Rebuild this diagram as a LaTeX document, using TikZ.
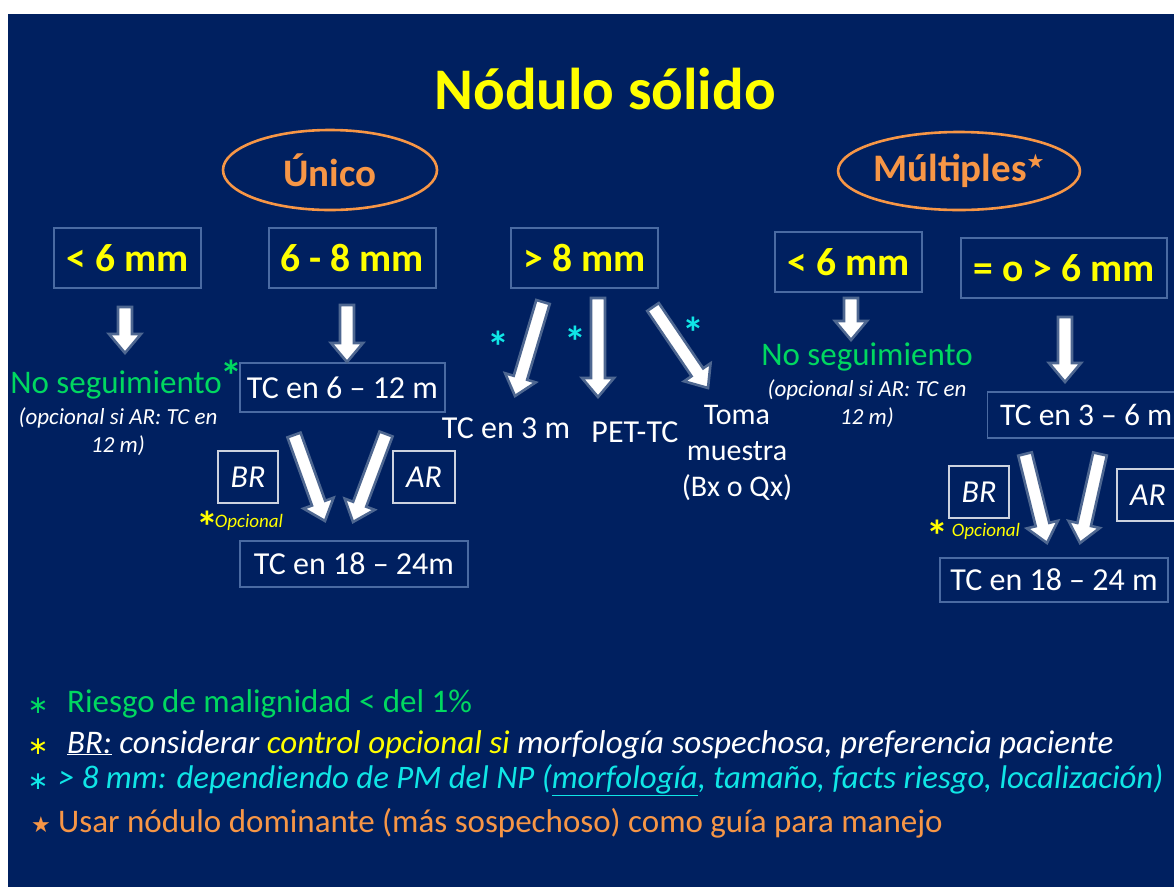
\documentclass[tikz,border=0pt]{standalone}
\usepackage{fontspec}
\setmainfont{Carlito}
\newfontfamily\symfont{DejaVu Sans}
\usetikzlibrary{calc,shapes.geometric}
\definecolor{bg}{HTML}{002060}
\definecolor{boxc}{HTML}{4A6AA2}
\definecolor{arc}{HTML}{4E6791}
\definecolor{yel}{HTML}{FFFF00}
\definecolor{orng}{HTML}{F79646}
\definecolor{grn}{HTML}{00D860}
\definecolor{cyn}{HTML}{10E6E6}
\tikzset{
 box/.style={draw=boxc, line width=1.3pt, inner sep=0pt},
 wbox/.style={draw=white!80!bg, line width=1.3pt, inner sep=0pt, text=white, font=\fontsize{32}{34}\selectfont\itshape},
 oval/.style={ellipse, draw=orng, line width=2.6pt, inner sep=0pt, text=orng, font=\fontsize{39}{42}\selectfont\bfseries},
 hdr/.style={text=yel, font=\fontsize{39.5}{42}\selectfont\bfseries},
 body/.style={text=white, font=\fontsize{32}{36}\selectfont},
 grtext/.style={text=grn, font=\fontsize{33}{36}\selectfont},
 note/.style={text=white, font=\fontsize{23}{28}\selectfont\itshape, align=center},
 opc/.style={text=yel, font=\fontsize{19}{22}\selectfont\itshape},
 star/.style={font=\fontsize{44}{44}\selectfont\bfseries, inner sep=0pt},
 lstar/.style={anchor=base, font=\symfont\fontsize{25}{25}\selectfont, inner sep=0pt},
 legend/.style={anchor=base west, inner sep=0pt, font=\fontsize{33}{36}\selectfont},
 barrow/.style={fill=white, draw=arc, line width=2.6pt, line join=miter},
}
\newcommand\blockarrow[2]{%
 \coordinate (bahead) at ($(#2)!19pt!(#1)$);
 \draw[barrow] ($(#1)!7pt!90:(#2)$) -- ($(bahead)!7pt!90:(#2)$) -- ($(bahead)!16pt!90:(#2)$) -- (#2) -- ($(bahead)!16pt!-90:(#2)$) -- ($(bahead)!7pt!-90:(#2)$) -- ($(#1)!7pt!-90:(#2)$) -- cycle;}
\begin{document}
\begin{tikzpicture}[x=1pt,y=-1pt]
\path[use as bounding box] (0,0) rectangle (1174,887);
\fill[white] (0,0) rectangle (1174,887);
\fill[bg] (8,14) rectangle (1174,887);
\begin{scope}
\clip (8,14) rectangle (1174,887);
% title
\node[text=yel, font=\fontsize{59}{60}\selectfont\bfseries] (title) at (605,89) {Nódulo sólido};
% ovals
\node[oval, minimum width=214pt, minimum height=80pt] (unico) at (330,170) {Único};
\node[oval, minimum width=226pt, minimum height=78pt] (mult) at (959,171) {Múltiples\raisebox{13pt}{\symfont\fontsize{20}{20}\selectfont ★}};
% size boxes
\node[box, hdr, minimum width=147pt, minimum height=60pt] (b1) at (127.5,258) {< 6 mm};
\node[box, hdr, minimum width=167pt, minimum height=60pt] (b2) at (352.5,258) {6 - 8 mm};
\node[box, hdr, minimum width=147pt, minimum height=60pt] (b3) at (584.5,258) {> 8 mm};
\node[box, hdr, minimum width=147pt, minimum height=60pt] (b4) at (848.5,262) {< 6 mm};
\node[box, hdr, minimum width=206pt, minimum height=60pt] (b5) at (1064,268) {= o > 6 mm};
% left column
\node[grtext] (ns1) at (116,385) {No seguimiento};
\node[text=grn, star] (ns1s) at (231,376) {*};
\node[note] (op1) at (118,432) {(opcional si AR: TC en\\12 m)};
% 6-8 column
\node[box, body, minimum width=205pt, minimum height=49pt] (tc612) at (342.5,387.5) {TC en 6 -- 12 m};
\node[wbox, minimum width=60pt, minimum height=52pt] (br1) at (248,477) {BR};
\node[wbox, minimum width=62pt, minimum height=52pt] (ar1) at (424,477) {AR};
\node[text=yel, star] (op1s) at (207,527) {*};
\node[opc] (opc1) at (249,522) {Opcional};
\node[box, body, minimum width=228pt, minimum height=46pt] (tc1824a) at (354,564) {TC en 18 -- 24m};
% >8 column
\node[body] (tc3) at (506,428) {TC en 3 m};
\node[body] (pet) at (635,432) {PET-TC};
\node[body, align=center, font=\fontsize{30}{36}\selectfont] (toma) at (737,453) {Toma\\muestra\\(Bx o Qx)};
\node[text=cyn, star] (c1) at (498,347) {*};
\node[text=cyn, star] (c2) at (575,342) {*};
\node[text=cyn, star] (c3) at (693,333) {*};
% multiple <6
\node[grtext] (ns2) at (867,357) {No seguimiento};
\node[note] (op2) at (867,404) {(opcional si AR: TC en\\12 m)};
% multiple >=6
\node[box, anchor=west, minimum width=205pt, minimum height=46pt] (tc36) at (987,415) {};
\node[body, anchor=west, inner sep=0pt, font=\fontsize{31.5}{34}\selectfont] (tc36t) at (1000,415) {TC en 3 -- 6 m};
\node[wbox, minimum width=60pt, minimum height=52pt] (br2) at (979,492) {BR};
\node[wbox, minimum width=62pt, minimum height=52pt] (ar2) at (1148,495) {AR};
\node[text=yel, star] (op2s) at (937,536) {*};
\node[opc] (opc2) at (986,531) {Opcional};
\node[box, body, minimum width=228pt, minimum height=44pt] (tc1824b) at (1054,580) {TC en 18 -- 24 m};
% arrows
\coordinate (a1s) at (125,307); \coordinate (a1e) at (125,353);
\coordinate (a2s) at (347,305); \coordinate (a2e) at (347,362);
\coordinate (a3s) at (543,302); \coordinate (a3e) at (515,396);
\coordinate (a4s) at (598,298); \coordinate (a4e) at (598,397);
\coordinate (a5s) at (653,307); \coordinate (a5e) at (708,388);
\coordinate (a6s) at (294,435); \coordinate (a6e) at (325,521);
\coordinate (a7s) at (386,434); \coordinate (a7e) at (353,522);
\coordinate (a8s) at (851,298); \coordinate (a8e) at (851,340);
\coordinate (a9s) at (1065,317); \coordinate (a9e) at (1065,382);
\coordinate (a10s) at (1025,454); \coordinate (a10e) at (1047,543);
\coordinate (a11s) at (1100,454); \coordinate (a11e) at (1080,543);
\blockarrow{a1s}{a1e}
\blockarrow{a2s}{a2e}
\blockarrow{a3s}{a3e}
\blockarrow{a4s}{a4e}
\blockarrow{a5s}{a5e}
\blockarrow{a6s}{a6e}
\blockarrow{a7s}{a7e}
\blockarrow{a8s}{a8e}
\blockarrow{a9s}{a9e}
\blockarrow{a10s}{a10e}
\blockarrow{a11s}{a11e}
% legend
\node[text=grn, lstar] (l1s) at (38,713) {∗};
\node[legend, text=grn] (l1) at (67,712) {Riesgo de malignidad < del 1\%};
\node[text=yel, lstar] (l2s) at (38,754) {∗};
\node[legend, text=white, font=\fontsize{33}{36}\selectfont\itshape] (l2) at (67,753) {\underline{BR:} considerar \textcolor{yel}{control opcional si} morfología sospechosa, preferencia paciente};
\node[text=cyn, lstar] (l3s) at (38,789) {∗};
\node[legend, text=cyn, font=\fontsize{32.8}{36}\selectfont\itshape] (l3) at (58,788) {> 8 mm: dependiendo de PM del NP (\underline{morfología}, tamaño, facts riesgo, localización)};
\node[text=orng, font=\symfont\fontsize{22}{22}\selectfont, inner sep=0pt] (l4s) at (41,825) {★};
\node[legend, text=orng] (l4) at (58,832) {Usar nódulo dominante (más sospechoso) como guía para manejo};
\end{scope}
\end{tikzpicture}
\end{document}
